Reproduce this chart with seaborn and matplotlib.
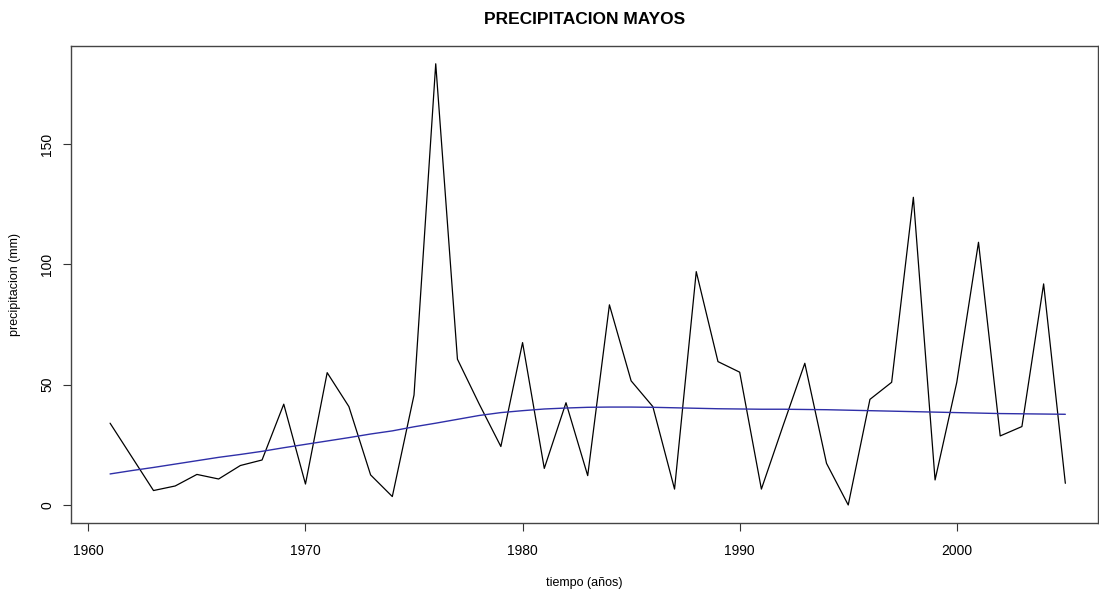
import matplotlib
matplotlib.use("Agg")
import matplotlib.pyplot as plt
import seaborn as sns
import pandas as pd

years = list(range(1961, 2006))
precip = [34.0, 20.0, 6.0, 7.9, 12.7, 10.8, 16.4, 18.7, 41.9, 8.7,
          55.0, 40.9, 12.5, 3.5, 45.7, 183.4, 60.6, 42.0, 24.3, 67.5,
          15.2, 42.5, 12.2, 83.2, 51.6, 40.9, 6.6, 97.0, 59.6, 55.2,
          6.6, 33.0, 58.9, 17.3, 0.0, 43.9, 51.0, 127.9, 10.4, 51.0,
          109.2, 28.7, 32.6, 91.9, 9.0]
smooth = [12.9, 14.3, 15.6, 17.0, 18.4, 19.8, 21.0, 22.3, 23.8, 25.2,
          26.6, 28.0, 29.5, 30.8, 32.5, 34.0, 35.6, 37.2, 38.4, 39.2,
          39.9, 40.3, 40.6, 40.7, 40.7, 40.6, 40.4, 40.2, 40.0, 39.9,
          39.8, 39.8, 39.7, 39.6, 39.4, 39.2, 39.0, 38.8, 38.6, 38.4,
          38.2, 38.0, 37.9, 37.8, 37.7]
xticks = [1960, 1970, 1980, 1990, 2000]
yticks = [0, 50, 100, 150]

df = pd.DataFrame({"year": years, "precip": precip, "smooth": smooth})

sns.set_theme(style="white")
plt.rcParams['font.family'] = ['Liberation Sans', 'DejaVu Sans']
plt.rcParams['text.color'] = 'black'
plt.rcParams['axes.labelcolor'] = 'black'
plt.rcParams['xtick.color'] = 'black'
plt.rcParams['ytick.color'] = 'black'

fig = plt.figure(figsize=(10.99, 5.94), dpi=100)
ax = fig.add_axes([0.0646, 0.1195, 0.9344, 0.8031])

sns.lineplot(data=df, x="year", y="precip", ax=ax, color="black", linewidth=0.9)
sns.lineplot(data=df, x="year", y="smooth", ax=ax, color="#2f2fa8", linewidth=1.0)

ax.set_xlim(1959.2, 2006.5)
ax.set_ylim(-7.5, 190.8)
ax.set_xticks(xticks)
ax.set_yticks(yticks)
ax.set_xticklabels([str(t) for t in xticks], fontsize=10)
ax.set_yticklabels([str(t) for t in yticks], fontsize=10, rotation=90, va="center")
ax.tick_params(axis="both", direction="out", length=6, width=0.8, color="#333333",
               bottom=True, left=True)
ax.tick_params(axis="x", pad=9)
ax.tick_params(axis="y", pad=6)
for s in ax.spines.values():
    s.set_color("#444444")
    s.set_linewidth(1.0)

ax.set_xlabel("tiempo (años)", fontsize=9, labelpad=14)
ax.set_ylabel("precipitacion (mm)", fontsize=9, labelpad=14)
ax.set_title("PRECIPITACION MAYOS", fontsize=12.5, fontweight="bold", pad=16)

fig.savefig("out.png", dpi=100)
